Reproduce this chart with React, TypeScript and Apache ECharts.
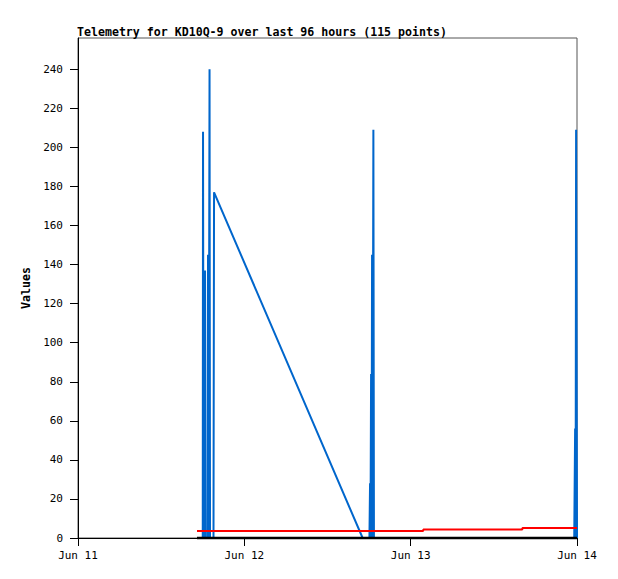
import React, { useEffect, useRef } from "react";
import * as echarts from "echarts";

// Hours since Jun 11 00:00
const hours = [
  17.17, 18.0, 18.04, 18.12, 18.33, 18.4, 18.7, 18.76, 18.85, 18.93, 18.98, 19.05,
  19.55, 19.63, 41.07, 42.05, 42.14, 42.2, 42.29, 42.35, 42.43, 42.5, 42.62, 42.7,
  49.8, 49.82, 64.1, 64.12, 71.6, 71.73, 71.8, 71.87, 72.0,
];
const blueValues = [
  0, 0, 208, 0, 137, 0, 0, 145, 0, 0, 240, 0,
  0, 177, 0, 0, 28, 0, 84, 0, 145, 0, 209, 0,
  0, 0, 0, 0, 0, 56, 0, 209, 0,
];
const redValues = [
  3.6, 3.6, 3.6, 3.6, 3.6, 3.6, 3.6, 3.6, 3.6, 3.6, 3.6, 3.6,
  3.6, 3.6, 3.6, 3.6, 3.6, 3.6, 3.6, 3.6, 3.6, 3.6, 3.6, 3.6,
  3.6, 4.3, 4.3, 5.1, 5.1, 5.1, 5.1, 5.1, 5.1,
];
const blackValues = hours.map(() => 0);
const xTickLabels = ["Jun 11", "Jun 12", "Jun 13", "Jun 14"];
const yTicks = [0, 20, 40, 60, 80, 100, 120, 140, 160, 180, 200, 220, 240];

const titleText = "Telemetry for KD10Q-9 over last 96 hours (115 points)";

export default function App() {
  const ref = useRef<HTMLDivElement>(null);
  useEffect(() => {
    document.body.style.margin = "0";
    if (!ref.current) return;
    const chart = echarts.init(ref.current, undefined, { renderer: "svg" });
    const pair = (vals: number[]) => hours.map((h, i) => [h, vals[i]]);
    const mono = "DejaVu Sans Mono";
    chart.setOption({
      animation: false,
      backgroundColor: "#ffffff",
      title: {
        text: titleText,
        left: 72,
        top: 21,
        textStyle: { fontFamily: mono, fontWeight: "bold", fontSize: 11.6, color: "#000" },
      },
      grid: {
        left: 78,
        top: 38,
        right: 41,
        bottom: 41,
        show: true,
        borderColor: "#555",
        borderWidth: 1,
        backgroundColor: "#fff",
      },
      xAxis: {
        type: "value",
        min: 0,
        max: 72,
        interval: 24,
        axisLine: { show: true, lineStyle: { color: "#000", width: 1 } },
        axisTick: { show: true, length: 8, lineStyle: { color: "#000" } },
        splitLine: { show: false },
        axisLabel: {
          margin: 12,
          fontFamily: mono,
          fontSize: 11,
          color: "#000",
          formatter: (v: number) => xTickLabels[Math.round(v / 24)] ?? "",
        },
      },
      yAxis: {
        type: "value",
        min: 0,
        max: 256,
        interval: 20,
        name: "Values",
        nameLocation: "middle",
        nameGap: 40,
        nameRotate: 90,
        nameTextStyle: { fontFamily: mono, fontWeight: "bold", fontSize: 11.6, color: "#000" },
        axisLine: { show: true, lineStyle: { color: "#000", width: 1 } },
        axisTick: { show: true, length: 8, lineStyle: { color: "#000" }, customValues: yTicks },
        splitLine: { show: false },
        axisLabel: {
          margin: 15,
          fontFamily: mono,
          fontSize: 11,
          color: "#000",
          customValues: yTicks,
        },
      },
      series: [
        {
          type: "line",
          data: pair(blueValues),
          showSymbol: false,
          lineStyle: { color: "#0066cc", width: 2 },
        },
        {
          type: "line",
          data: pair(redValues),
          showSymbol: false,
          lineStyle: { color: "#ff0000", width: 2 },
        },
        {
          type: "line",
          data: pair(blackValues),
          showSymbol: false,
          lineStyle: { color: "#000", width: 2.5 },
          clip: false,
        },
      ],
    });
    return () => chart.dispose();
  }, []);
  return <div ref={ref} style={{ width: 618, height: 579 }} />;
}
